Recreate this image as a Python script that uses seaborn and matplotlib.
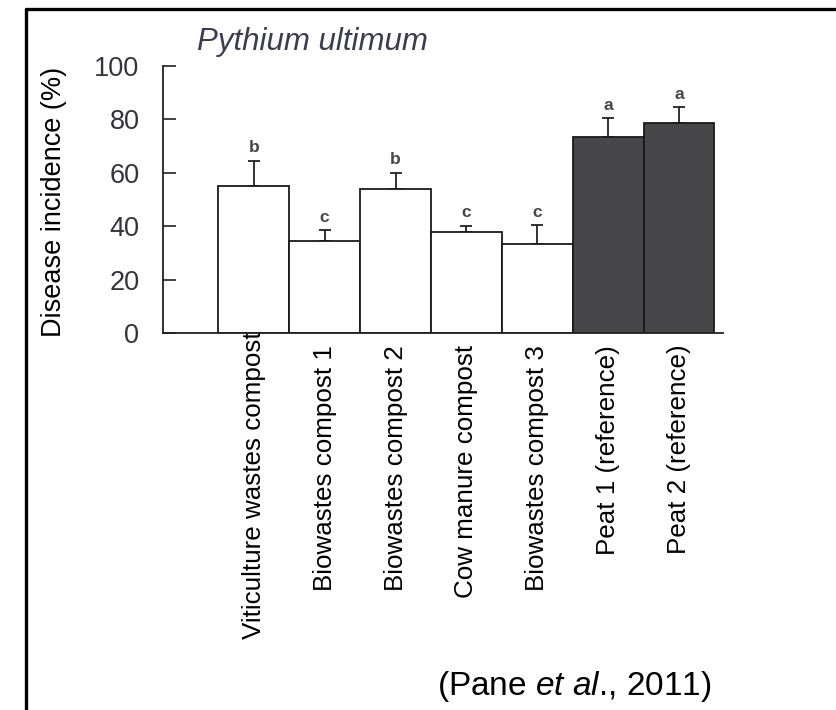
import matplotlib
matplotlib.use("Agg")
import matplotlib.pyplot as plt
import matplotlib.transforms as mtransforms
from matplotlib.lines import Line2D
import seaborn as sns
import pandas as pd
import numpy as np

# ---- data ----
categories = ["Viticulture wastes compost", "Biowastes compost 1", "Biowastes compost 2",
              "Cow manure compost", "Biowastes compost 3", "Peat 1 (reference)",
              "Peat 2 (reference)"]
incidence = [55, 34.5, 54, 38, 33.5, 73.5, 78.5]
error_up = [9.5, 4, 6, 2.2, 7, 7, 6]
letters = ["b", "c", "b", "c", "c", "a", "a"]
groups = ["compost", "compost", "compost", "compost", "compost", "peat", "peat"]
yticks = [0, 20, 40, 60, 80, 100]
title = "Pythium ultimum"
ylabel = "Disease incidence (%)"

sns.set_style("ticks")
plt.rcParams["font.family"] = ["Liberation Sans", "DejaVu Sans"]
plt.rcParams["mathtext.fontset"] = "custom"
plt.rcParams["mathtext.rm"] = "Liberation Sans"
plt.rcParams["mathtext.it"] = "Liberation Sans:italic"

df = pd.DataFrame({"cat": categories, "val": incidence, "grp": groups})

W, H, DPI = 837, 710, 100
fig = plt.figure(figsize=(W / DPI, H / DPI), dpi=DPI)
ax = fig.add_axes([163 / W, 1 - 333 / H, (723 - 163) / W, (333 - 66) / H])

sns.barplot(data=df, x="cat", y="val", hue="grp",
            palette={"compost": "white", "peat": "#47474a"},
            dodge=False, width=1.0, edgecolor="#1a1a1a", linewidth=1.3,
            legend=False, ax=ax, zorder=2)

x = np.arange(len(categories))
ax.errorbar(x, incidence, yerr=[np.zeros(len(x)), error_up], fmt="none",
            ecolor="#222222", elinewidth=1.3, capsize=4.5, capthick=1.3, zorder=1)

for xi, v, e, l in zip(x, incidence, error_up, letters):
    ax.annotate(l, (xi, v + e), xytext=(0, 6), textcoords="offset points",
                ha="center", va="baseline", fontsize=12.5, fontweight="bold",
                color="#4a4545")

ax.set_ylim(0, 100)
ax.set_xlim(-1.28, 6.62)
ax.set_yticks(yticks)
ax.set_yticklabels([str(t) for t in yticks])
ax.tick_params(axis="y", direction="in", length=9.5, width=1.2, pad=17,
               labelsize=19.5, labelcolor="#35323c", color="#222222")
ax.tick_params(axis="x", length=0, pad=8.5, labelsize=18.7, labelcolor="black",
               labelrotation=90)
for s in ["top", "right"]:
    ax.spines[s].set_visible(False)
for s in ["left", "bottom"]:
    ax.spines[s].set_linewidth(1.3)
    ax.spines[s].set_color("#222222")
ax.set_xlabel("")
ax.set_ylabel(ylabel, fontsize=19.5, color="black")
ax.yaxis.set_label_coords(-0.172, 0.49)

# shift first label up slightly (as in reference)
lbls = ax.get_xticklabels()
lbls[0].set_transform(lbls[0].get_transform() +
                      mtransforms.ScaledTranslation(0, 13 / DPI, fig.dpi_scale_trans))

fig.text(197 / W, 1 - 50 / H, title, fontsize=22.5, style="italic",
         color="#3b3d4e", ha="left", va="baseline")

fig.text(437 / W, 1 - 686 / H, "(Pane $\\it{et\\ al}$., 2011)", fontsize=24,
         ha="left", va="center", color="black")

# outer frame (top and left only)
fig.add_artist(Line2D([26 / W, 1], [1 - 9 / H, 1 - 9 / H], color="black", lw=2.4,
                      transform=fig.transFigure))
fig.add_artist(Line2D([26 / W, 26 / W], [0, 1 - 9 / H], color="black", lw=2.4,
                      transform=fig.transFigure))

fig.savefig("out.png", dpi=DPI)
